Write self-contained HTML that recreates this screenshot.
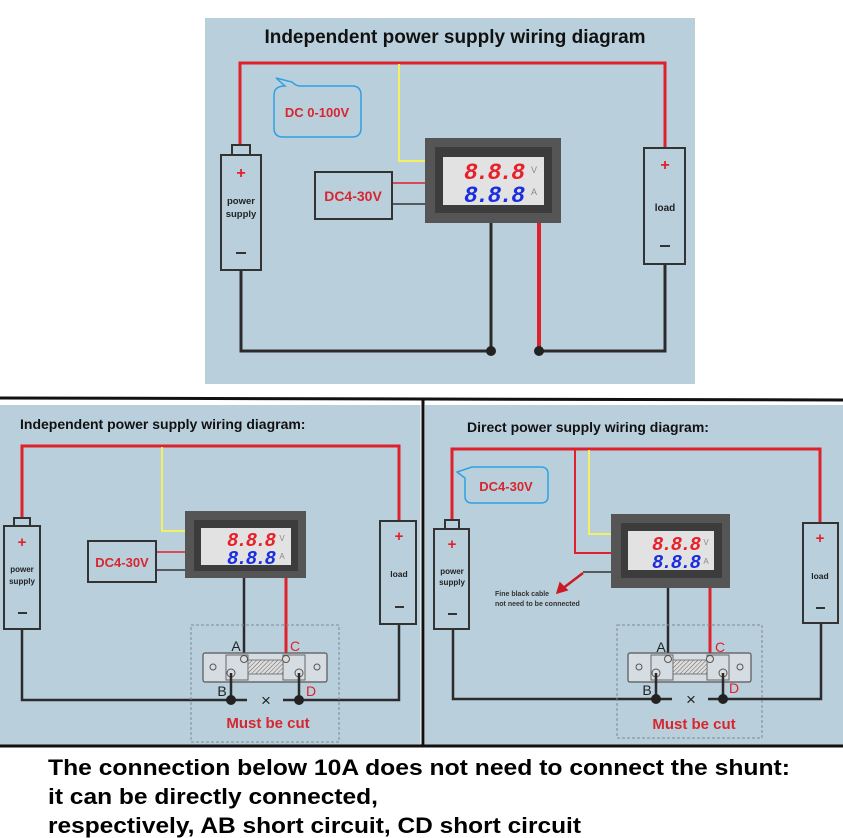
<!DOCTYPE html>
<html><head><meta charset="utf-8"><style>
html,body{margin:0;padding:0;background:#fff;}
svg{display:block;font-family:"Liberation Sans",Arial,sans-serif;}
</style></head><body>
<svg width="843" height="838" viewBox="0 0 843 838" xmlns="http://www.w3.org/2000/svg">
<defs>
<pattern id="h" width="3" height="3" patternUnits="userSpaceOnUse" patternTransform="rotate(45)">
<rect width="3" height="3" fill="#ddd"/><line x1="0" y1="0" x2="0" y2="3" stroke="#666" stroke-width="1"/>
</pattern>
</defs>
<rect width="843" height="838" fill="#fff"/>

<!-- ========== TOP PANEL ========== -->
<rect x="205" y="18" width="490" height="366" fill="#b9d0dc"/>
<text x="455" y="43" font-size="19" font-weight="bold" text-anchor="middle" fill="#111">Independent power supply wiring diagram</text>
<g fill="none" stroke-linejoin="miter">
<polyline points="240,145 240,63 665,63 665,148" stroke="#e0202a" stroke-width="3"/>
<polyline points="399,64 399,161 425,161" stroke="#f5f060" stroke-width="2"/>
<line x1="392" y1="183" x2="425" y2="183" stroke="#e0202a" stroke-width="1.5"/>
<line x1="392" y1="204" x2="425" y2="204" stroke="#333" stroke-width="1.5"/>
<polyline points="241,270 241,351 491,351 491,223" stroke="#2b2b2b" stroke-width="3"/>
<polyline points="539,223 539,351" stroke="#e0202a" stroke-width="4"/>
<polyline points="539,351 665,351 665,264" stroke="#2b2b2b" stroke-width="3"/>
</g>
<circle cx="491" cy="351" r="5" fill="#222"/><circle cx="539" cy="351" r="5" fill="#222"/>
<rect x="232" y="145" width="18" height="10" fill="#b9d0dc" stroke="#333" stroke-width="2"/>
<rect x="221" y="155" width="40" height="115" fill="#b9d0dc" stroke="#333" stroke-width="2"/>
<text x="241" y="178" font-size="16" font-weight="bold" fill="#e0202a" text-anchor="middle">+</text>
<text x="241" y="204" font-size="9.5" font-weight="bold" fill="#222" text-anchor="middle">power</text>
<text x="241" y="217" font-size="9.5" font-weight="bold" fill="#222" text-anchor="middle">supply</text>
<line x1="236" y1="253" x2="246" y2="253" stroke="#333" stroke-width="2"/>
<rect x="644" y="148" width="41" height="116" fill="#b9d0dc" stroke="#333" stroke-width="2"/>
<text x="665" y="170" font-size="16" font-weight="bold" fill="#e0202a" text-anchor="middle">+</text>
<text x="665" y="211" font-size="10" font-weight="bold" fill="#222" text-anchor="middle">load</text>
<line x1="660" y1="246" x2="670" y2="246" stroke="#333" stroke-width="2"/>
<rect x="315" y="172" width="77" height="47" fill="#b9d0dc" stroke="#333" stroke-width="2"/>
<text x="353" y="201" font-size="14" font-weight="bold" fill="#d7262e" text-anchor="middle">DC4-30V</text>
<path d="M285,86 L276,78 L292,82 Q296,86 300,86 L352,86 Q361,86 361,95 L361,128 Q361,137 352,137 L283,137 Q274,137 274,128 L274,95 Q274,86 285,86 Z" fill="#b9d0dc" stroke="#2fa0e0" stroke-width="1.5"/>
<text x="317" y="117" font-size="13" font-weight="bold" fill="#d7262e" text-anchor="middle">DC 0-100V</text>
<rect x="425" y="138" width="136" height="85" fill="#555"/>
<rect x="435" y="147" width="117" height="66" fill="#3c3c3c"/>
<rect x="443" y="157" width="101" height="48" fill="#e2e2e2"/>
<text x="523" y="179" font-size="23" font-weight="bold" font-style="italic" fill="#e8202a" text-anchor="end" font-family="Liberation Mono,monospace" letter-spacing="-2">8.8.8</text>
<text x="523" y="202" font-size="23" font-weight="bold" font-style="italic" fill="#1a2ee0" text-anchor="end" font-family="Liberation Mono,monospace" letter-spacing="-2">8.8.8</text>
<text x="534" y="173" font-size="9" fill="#888" text-anchor="middle">V</text>
<text x="534" y="195" font-size="9" fill="#888" text-anchor="middle">A</text>

<!-- ========== BOTTOM PANELS ========== -->
<rect x="0" y="405" width="422" height="340" fill="#b9d0dc"/>
<rect x="425" y="405" width="418" height="340" fill="#b9d0dc"/>
<line x1="0" y1="398" x2="843" y2="400" stroke="#111" stroke-width="3"/>
<line x1="423" y1="400" x2="423" y2="746" stroke="#111" stroke-width="3"/>
<line x1="0" y1="746" x2="843" y2="746" stroke="#111" stroke-width="3"/>
<line x1="421" y1="405" x2="421" y2="744" stroke="#fff" stroke-width="1"/>

<!-- LEFT -->
<text x="20" y="429" font-size="14" font-weight="bold" fill="#111">Independent power supply wiring diagram:</text>
<g fill="none">
<polyline points="22,518 22,446 399,446 399,521" stroke="#e0202a" stroke-width="3"/>
<polyline points="162,447 162,531 185,531" stroke="#f5f060" stroke-width="2"/>
<line x1="156" y1="552" x2="185" y2="552" stroke="#e0202a" stroke-width="1.5"/>
<line x1="156" y1="570" x2="185" y2="570" stroke="#333" stroke-width="1.5"/>
<line x1="244" y1="578" x2="244" y2="659" stroke="#2b2b2b" stroke-width="2.5"/>
<line x1="286" y1="578" x2="286" y2="659" stroke="#e0202a" stroke-width="3"/>
<polyline points="22,629 22,700 247,700" stroke="#2b2b2b" stroke-width="2.5"/>
<polyline points="283,700 399,700 399,624" stroke="#2b2b2b" stroke-width="2.5"/>
<rect x="191" y="625" width="148" height="117" stroke="#7a8a94" stroke-width="1" stroke-dasharray="3,2"/>
</g>
<rect x="14" y="518" width="16" height="8" fill="#b9d0dc" stroke="#333" stroke-width="2"/>
<rect x="4" y="526" width="36" height="103" fill="#b9d0dc" stroke="#333" stroke-width="2"/>
<text x="22" y="547" font-size="15" font-weight="bold" fill="#e0202a" text-anchor="middle">+</text>
<text x="22" y="572" font-size="8" font-weight="bold" fill="#222" text-anchor="middle">power</text>
<text x="22" y="584" font-size="8" font-weight="bold" fill="#222" text-anchor="middle">supply</text>
<line x1="18" y1="613" x2="27" y2="613" stroke="#333" stroke-width="2"/>
<rect x="380" y="521" width="36" height="103" fill="#b9d0dc" stroke="#333" stroke-width="2"/>
<text x="399" y="541" font-size="15" font-weight="bold" fill="#e0202a" text-anchor="middle">+</text>
<text x="399" y="577" font-size="8.5" font-weight="bold" fill="#222" text-anchor="middle">load</text>
<line x1="395" y1="607" x2="404" y2="607" stroke="#333" stroke-width="2"/>
<rect x="88" y="541" width="68" height="41" fill="#b9d0dc" stroke="#333" stroke-width="2"/>
<text x="122" y="567" font-size="13" font-weight="bold" fill="#d7262e" text-anchor="middle">DC4-30V</text>
<rect x="185" y="511" width="121" height="67" fill="#555"/>
<rect x="194" y="520" width="104" height="51" fill="#3c3c3c"/>
<rect x="201" y="528" width="90" height="37" fill="#e2e2e2"/>
<text x="274" y="546" font-size="19" font-weight="bold" font-style="italic" fill="#e8202a" text-anchor="end" font-family="Liberation Mono,monospace" letter-spacing="-2">8.8.8</text>
<text x="274" y="564" font-size="19" font-weight="bold" font-style="italic" fill="#1a2ee0" text-anchor="end" font-family="Liberation Mono,monospace" letter-spacing="-2">8.8.8</text>
<text x="282" y="541" font-size="8" fill="#888" text-anchor="middle">V</text>
<text x="282" y="559" font-size="8" fill="#888" text-anchor="middle">A</text>
<rect x="203" y="653" width="124" height="29" rx="2" fill="#d6dde2" stroke="#555" stroke-width="1.2"/>
<rect x="226" y="655" width="22" height="25" fill="#d6dde2" stroke="#666" stroke-width="1"/>
<rect x="283" y="655" width="22" height="25" fill="#d6dde2" stroke="#666" stroke-width="1"/>
<rect x="248" y="660" width="35" height="14" fill="url(#h)" stroke="#666" stroke-width="0.8"/>
<circle cx="213" cy="667" r="3" fill="none" stroke="#555"/><circle cx="317" cy="667" r="3" fill="none" stroke="#555"/>
<circle cx="244" cy="659" r="3.5" fill="#ddd" stroke="#555"/><circle cx="286" cy="659" r="3.5" fill="#ddd" stroke="#555"/>
<circle cx="231" cy="673" r="4" fill="#ddd" stroke="#555"/><circle cx="299" cy="673" r="4" fill="#ddd" stroke="#555"/>
<line x1="231" y1="673" x2="231" y2="700" stroke="#2b2b2b" stroke-width="2.5"/>
<line x1="299" y1="673" x2="299" y2="700" stroke="#2b2b2b" stroke-width="2.5"/>
<circle cx="231" cy="700" r="5" fill="#222"/><circle cx="299" cy="700" r="5" fill="#222"/>
<text x="236" y="651" font-size="14" fill="#222" text-anchor="middle">A</text>
<text x="295" y="651" font-size="14" fill="#e0202a" text-anchor="middle">C</text>
<text x="222" y="696" font-size="14" fill="#222" text-anchor="middle">B</text>
<text x="311" y="696" font-size="14" fill="#e0202a" text-anchor="middle">D</text>
<text x="266" y="706" font-size="17" fill="#222" text-anchor="middle">×</text>
<text x="268" y="728" font-size="15" font-weight="bold" fill="#d7262e" text-anchor="middle">Must be cut</text>

<!-- RIGHT -->
<text x="467" y="432" font-size="14" font-weight="bold" fill="#111">Direct power supply wiring diagram:</text>
<g fill="none">
<polyline points="452,520 452,449 820,449 820,523" stroke="#e0202a" stroke-width="3"/>
<polyline points="575,449 575,553 611,553" stroke="#e0202a" stroke-width="2"/>
<polyline points="589,450 589,534 611,534" stroke="#f5f060" stroke-width="2"/>
<line x1="583" y1="572" x2="611" y2="572" stroke="#333" stroke-width="1.5"/>
<line x1="668" y1="588" x2="668" y2="659" stroke="#2b2b2b" stroke-width="2.5"/>
<line x1="710" y1="588" x2="710" y2="659" stroke="#e0202a" stroke-width="3"/>
<polyline points="453,629 453,699 672,699" stroke="#2b2b2b" stroke-width="2.5"/>
<polyline points="708,699 821,699 821,623" stroke="#2b2b2b" stroke-width="2.5"/>
<rect x="617" y="625" width="145" height="113" stroke="#7a8a94" stroke-width="1" stroke-dasharray="3,2"/>
</g>
<path d="M583,573 L562,589" stroke="#cc1a22" stroke-width="2.5"/>
<path d="M557,593 L560,583 L567,590 Z" fill="#cc1a22" stroke="#cc1a22" stroke-width="1.5"/>
<text x="495" y="596" font-size="7" font-weight="bold" fill="#333">Fine black cable</text>
<text x="495" y="606" font-size="7" font-weight="bold" fill="#333">not need to be connected</text>
<path d="M472,467 L457,472 L465,478 L465,496 Q465,503 472,503 L541,503 Q548,503 548,496 L548,474 Q548,467 541,467 Z" fill="#b9d0dc" stroke="#2fa0e0" stroke-width="1.5"/>
<text x="506" y="491" font-size="13" font-weight="bold" fill="#d7262e" text-anchor="middle">DC4-30V</text>
<rect x="445" y="520" width="14" height="9" fill="#b9d0dc" stroke="#333" stroke-width="2"/>
<rect x="434" y="529" width="35" height="100" fill="#b9d0dc" stroke="#333" stroke-width="2"/>
<text x="452" y="549" font-size="15" font-weight="bold" fill="#e0202a" text-anchor="middle">+</text>
<text x="452" y="574" font-size="8" font-weight="bold" fill="#222" text-anchor="middle">power</text>
<text x="452" y="585" font-size="8" font-weight="bold" fill="#222" text-anchor="middle">supply</text>
<line x1="448" y1="614" x2="457" y2="614" stroke="#333" stroke-width="2"/>
<rect x="803" y="523" width="35" height="100" fill="#b9d0dc" stroke="#333" stroke-width="2"/>
<text x="820" y="543" font-size="15" font-weight="bold" fill="#e0202a" text-anchor="middle">+</text>
<text x="820" y="579" font-size="8.5" font-weight="bold" fill="#222" text-anchor="middle">load</text>
<line x1="816" y1="608" x2="825" y2="608" stroke="#333" stroke-width="2"/>
<rect x="611" y="514" width="119" height="74" fill="#555"/>
<rect x="621" y="523" width="101" height="55" fill="#3c3c3c"/>
<rect x="628" y="531" width="86" height="39" fill="#e2e2e2"/>
<text x="699" y="550" font-size="19" font-weight="bold" font-style="italic" fill="#e8202a" text-anchor="end" font-family="Liberation Mono,monospace" letter-spacing="-2">8.8.8</text>
<text x="699" y="568" font-size="19" font-weight="bold" font-style="italic" fill="#1a2ee0" text-anchor="end" font-family="Liberation Mono,monospace" letter-spacing="-2">8.8.8</text>
<text x="706" y="545" font-size="8" fill="#888" text-anchor="middle">V</text>
<text x="706" y="564" font-size="8" fill="#888" text-anchor="middle">A</text>
<rect x="628" y="653" width="123" height="29" rx="2" fill="#d6dde2" stroke="#555" stroke-width="1.2"/>
<rect x="651" y="655" width="22" height="25" fill="#d6dde2" stroke="#666" stroke-width="1"/>
<rect x="707" y="655" width="22" height="25" fill="#d6dde2" stroke="#666" stroke-width="1"/>
<rect x="673" y="660" width="34" height="14" fill="url(#h)" stroke="#666" stroke-width="0.8"/>
<circle cx="639" cy="667" r="3" fill="none" stroke="#555"/><circle cx="740" cy="667" r="3" fill="none" stroke="#555"/>
<circle cx="668" cy="659" r="3.5" fill="#ddd" stroke="#555"/><circle cx="710" cy="659" r="3.5" fill="#ddd" stroke="#555"/>
<circle cx="656" cy="673" r="4" fill="#ddd" stroke="#555"/><circle cx="723" cy="673" r="4" fill="#ddd" stroke="#555"/>
<line x1="656" y1="673" x2="656" y2="699" stroke="#2b2b2b" stroke-width="2.5"/>
<line x1="723" y1="673" x2="723" y2="699" stroke="#2b2b2b" stroke-width="2.5"/>
<circle cx="656" cy="699" r="5" fill="#222"/><circle cx="723" cy="699" r="5" fill="#222"/>
<text x="661" y="652" font-size="14" fill="#222" text-anchor="middle">A</text>
<text x="720" y="652" font-size="14" fill="#e0202a" text-anchor="middle">C</text>
<text x="647" y="695" font-size="14" fill="#222" text-anchor="middle">B</text>
<text x="734" y="693" font-size="14" fill="#e0202a" text-anchor="middle">D</text>
<text x="691" y="705" font-size="17" fill="#222" text-anchor="middle">×</text>
<text x="694" y="729" font-size="15" font-weight="bold" fill="#d7262e" text-anchor="middle">Must be cut</text>

<text x="48" y="775" font-size="22" font-weight="bold" fill="#000" textLength="742" lengthAdjust="spacingAndGlyphs">The connection below 10A does not need to connect the shunt:</text>
<text x="48" y="804" font-size="22" font-weight="bold" fill="#000" textLength="330" lengthAdjust="spacingAndGlyphs">it can be directly connected,</text>
<text x="48" y="833" font-size="22" font-weight="bold" fill="#000" textLength="533" lengthAdjust="spacingAndGlyphs">respectively, AB short circuit, CD short circuit</text>
</svg>
</body></html>
